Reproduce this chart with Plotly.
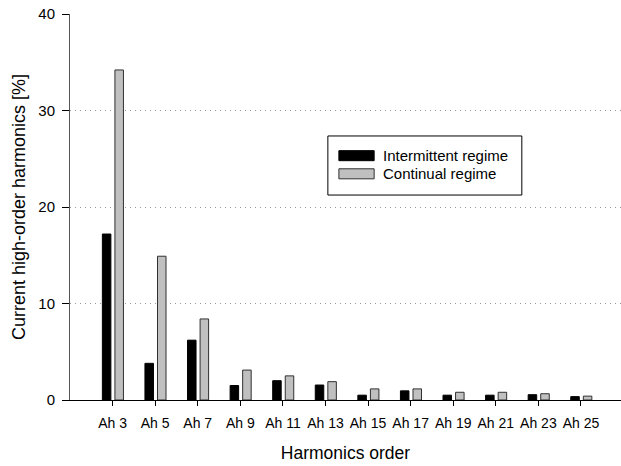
import plotly.graph_objects as go

categories = ["Ah 3", "Ah 5", "Ah 7", "Ah 9", "Ah 11", "Ah 13", "Ah 15", "Ah 17", "Ah 19", "Ah 21", "Ah 23", "Ah 25"]
intermittent = [17.2, 3.8, 6.2, 1.5, 2.0, 1.55, 0.5, 0.95, 0.5, 0.5, 0.55, 0.35]
continual = [34.2, 14.9, 8.4, 3.1, 2.5, 1.9, 1.15, 1.15, 0.8, 0.8, 0.65, 0.4]
y_ticks = [0, 10, 20, 30, 40]

font = "Liberation Sans, Arial, sans-serif"
black_style = dict(color="black", line=dict(color="black", width=1))
gray_style = dict(color="#c0c0c0", line=dict(color="#303030", width=1))

fig = go.Figure()
fig.add_trace(go.Bar(
    x=categories, y=intermittent, name="Intermittent regime",
    marker=black_style, width=0.2, offset=-0.24, showlegend=False,
))
fig.add_trace(go.Bar(
    x=categories, y=continual, name="Continual regime",
    marker=gray_style, width=0.2, offset=0.055, showlegend=False,
))

# Custom legend (wide swatches like the reference)
fig.add_shape(type="rect", xref="paper", yref="paper",
              x0=0.468, x1=0.820, y0=0.531, y1=0.684,
              line=dict(color="black", width=1), fillcolor="white", layer="above")
rows = [(fig.data[0].name, black_style, 0.633), (fig.data[1].name, gray_style, 0.586)]
for name, st, yc in rows:
    fig.add_shape(type="rect", xref="paper", yref="paper",
                  x0=0.488, x1=0.552, y0=yc - 0.013, y1=yc + 0.013,
                  line=dict(color=st["line"]["color"], width=1), fillcolor=st["color"], layer="above")
    fig.add_annotation(x=0.564, y=yc, xref="paper", yref="paper", text=name,
                       showarrow=False, xanchor="left", yanchor="middle",
                       font=dict(family=font, size=15, color="black"))

fig.update_layout(
    width=621, height=466,
    margin=dict(l=70, r=0, t=14, b=66),
    paper_bgcolor="white", plot_bgcolor="white",
    barmode="overlay",
    font=dict(family=font, size=14, color="black"),
    showlegend=False,
    xaxis=dict(
        type="category", range=[-1, 11.94],
        showline=True, linecolor="black", linewidth=1,
        ticks="outside", ticklen=5, tickcolor="black",
        showgrid=False, zeroline=False, ticklabelstandoff=5,
        title=dict(text="Harmonics order", font=dict(size=17.5), standoff=16),
        tickfont=dict(size=14),
    ),
    yaxis=dict(
        range=[0, 40], tickvals=y_ticks,
        showline=True, linecolor="#555555", linewidth=1,
        ticks="outside", ticklen=7, tickcolor="black",
        showgrid=True, gridcolor="#999999", griddash="1px,4px", gridwidth=1,
        zeroline=False, ticklabelstandoff=4,
        title=dict(text="Current high-order harmonics [%]", font=dict(size=18), standoff=8),
        tickfont=dict(size=15),
    ),
)

fig.write_html("out.html")
